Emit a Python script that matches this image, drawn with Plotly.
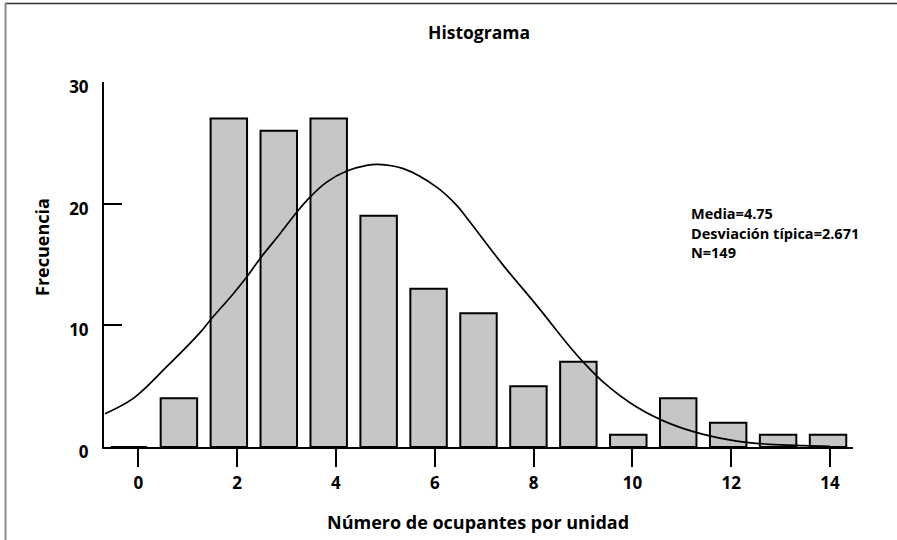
import plotly.graph_objects as go

# ---------------- data ----------------
categories = list(range(15))                       # number of occupants per unit
frequencies = [0, 4, 27, 26, 27, 19, 13, 11, 5, 7, 1, 4, 2, 1, 1]

# normal curve (x in axis units, y in frequency)
curve_x = [-0.674, -0.101, 0.575, 1.249, 1.451, 1.923, 2.194, 2.463, 2.868,
           3.206, 3.475, 3.813, 4.218, 4.623, 4.85, 5.363, 6.039, 6.444,
           6.713, 7.387, 8.063, 8.737, 9.006, 9.411, 10.087, 10.761, 11.435,
           12.111, 12.784, 13.459, 14.0]
curve_y = [2.74, 4.0, 6.6, 9.4, 10.4, 12.6, 13.97, 15.48, 17.53,
           19.3, 20.54, 21.77, 22.68, 23.15, 23.23, 22.88, 21.36, 19.86,
           18.49, 14.93, 11.64, 8.22, 6.98, 5.34, 3.29, 1.92, 1.04,
           0.49, 0.22, 0.11, 0.05]

x_tick_vals = [0, 2, 4, 6, 8, 10, 12, 14]
y_tick_vals = [0, 10, 20, 30]

title_text = "Histograma"
x_title = "Número de ocupantes por unidad"
y_title = "Frecuencia"
stats_lines = ["Media=4.75", "Desviación típica=2.671", "N=149"]
stats_y = [19.2, 17.56, 16.0]

# ---------------- layout constants ----------------
W, H = 897, 540
ML, MR, MT, MB = 104, 44, 82, 93
PW, PH = W - ML - MR, H - MT - MB
FONT = "Open Sans"


def px_to_paper_x(px):
    return (px - ML) / PW


def px_to_paper_y(py):
    return (H - MB - py) / PH


fig = go.Figure()

# bars live on the (hidden) bin axis "x"
fig.add_trace(go.Bar(
    x=categories, y=frequencies, xaxis="x", yaxis="y",
    width=0.73,
    marker=dict(color="#c6c6c6", line=dict(color="black", width=2)),
    showlegend=False, hoverinfo="x+y",
))

# curve lives on the visible value axis "x2" (drawn above the bars)
fig.add_trace(go.Scatter(
    x=curve_x, y=curve_y, xaxis="x2", yaxis="y",
    mode="lines", line=dict(color="black", width=1.7, shape="spline", smoothing=1.0),
    showlegend=False, hoverinfo="skip",
))

annotations = [
    dict(text=title_text, x=px_to_paper_x(479), y=px_to_paper_y(32),
         xref="paper", yref="paper", showarrow=False,
         xanchor="center", yanchor="middle",
         font=dict(family=FONT, size=17.5, color="black", weight="bold")),
    dict(text=x_title, x=px_to_paper_x(478), y=px_to_paper_y(522),
         xref="paper", yref="paper", showarrow=False,
         xanchor="center", yanchor="middle",
         font=dict(family=FONT, size=18, color="black", weight="bold")),
    dict(text=y_title, x=px_to_paper_x(42), y=px_to_paper_y(247),
         xref="paper", yref="paper", showarrow=False, textangle=-90,
         xanchor="center", yanchor="middle",
         font=dict(family=FONT, size=18, color="black", weight="bold")),
]
for line, yv in zip(stats_lines, stats_y):
    annotations.append(dict(
        text=line, x=11.145, y=yv, xref="x2", yref="y", showarrow=False,
        xanchor="left", yanchor="middle",
        font=dict(family=FONT, size=14.5, color="black", weight="bold")))

shapes = [
    # outer frame (top and left edges)
    dict(type="line", xref="paper", yref="paper",
         x0=px_to_paper_x(5), x1=px_to_paper_x(W + 5),
         y0=px_to_paper_y(3.5), y1=px_to_paper_y(3.5),
         line=dict(color="#333333", width=1.5)),
    dict(type="line", xref="paper", yref="paper",
         x0=px_to_paper_x(5.5), x1=px_to_paper_x(5.5),
         y0=px_to_paper_y(3), y1=px_to_paper_y(H + 5),
         line=dict(color="#8a8a8a", width=2)),
]

fig.update_layout(
    width=W, height=H, autosize=False,
    margin=dict(l=ML, r=MR, t=MT, b=MB, pad=0),
    paper_bgcolor="white", plot_bgcolor="white",
    font=dict(family=FONT, color="black"),
    bargap=0.27,
    xaxis=dict(
        range=[-0.5, 14.5], visible=False,
        showgrid=False, zeroline=False,
    ),
    xaxis2=dict(
        range=[-0.694, 14.465], overlaying="x", anchor="y", side="bottom",
        tickvals=x_tick_vals, ticktext=[str(v) for v in x_tick_vals],
        ticks="outside", ticklen=18, tickwidth=2, tickcolor="black",
        showline=True, linecolor="black", linewidth=2,
        showgrid=False, zeroline=False,
        tickfont=dict(family=FONT, size=17, color="black", weight="bold"),
        ticklabelstandoff=2,
    ),
    yaxis=dict(
        range=[0, 30], tickvals=y_tick_vals,
        ticktext=[str(v) for v in y_tick_vals],
        ticks="inside", ticklen=18, tickwidth=2, tickcolor="black",
        showline=True, linecolor="black", linewidth=2,
        showgrid=False, zeroline=False,
        tickfont=dict(family=FONT, size=17, color="black", weight="bold"),
        ticklabelstandoff=10, ticklabelshift=5,
    ),
    annotations=annotations,
    shapes=shapes,
)

fig.write_html("out.html")
